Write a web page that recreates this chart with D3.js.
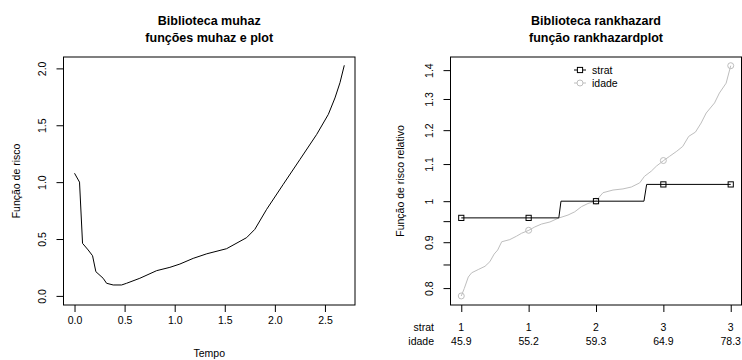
<!DOCTYPE html>
<html>
<head>
<meta charset="utf-8">
<script src="https://cdn.jsdelivr.net/npm/d3@7"></script>
<style>
  body { margin: 0; background: #fff; }
  svg text { font-family: "Liberation Sans", Arial, Helvetica, sans-serif; fill: #000; }
</style>
</head>
<body>
<div id="chart"></div>
<script>
const WIDTH = 742;
const HEIGHT = 360;

// left panel: muhaz hazard estimate
const tempo = [0.0, 0.05, 0.08, 0.136, 0.18, 0.213, 0.286, 0.32, 0.386, 0.47, 0.52, 0.652, 0.82, 0.952, 1.052, 1.185, 1.32, 1.518, 1.718, 1.80, 1.918, 2.084, 2.251, 2.418, 2.534, 2.60, 2.65, 2.693];
const risco = [1.078, 1.0, 0.462, 0.404, 0.353, 0.213, 0.155, 0.111, 0.096, 0.096, 0.111, 0.155, 0.222, 0.251, 0.28, 0.33, 0.37, 0.415, 0.512, 0.585, 0.761, 0.981, 1.20, 1.42, 1.596, 1.74, 1.874, 2.027];
const tempoTicks = [0, 0.5, 1, 1.5, 2, 2.5];
const riscoTicks = [0, 0.5, 1, 1.5, 2];

// right panel: rankhazardplot
const stratRank = [0, 0.362, 0.37, 0.678, 0.688, 1];
const stratHR = [0.958, 0.958, 1.0, 1.0, 1.044, 1.044];
const stratMarks = [0.958, 0.958, 1.0, 1.044, 1.044];

const idadeRank = [0, 0.011, 0.026, 0.0385, 0.063, 0.088, 0.106, 0.122, 0.135, 0.150, 0.180, 0.205, 0.224, 0.251, 0.273, 0.298, 0.329, 0.359, 0.396, 0.421, 0.446, 0.470, 0.499, 0.526, 0.563, 0.6, 0.631, 0.662, 0.680, 0.705, 0.724, 0.751, 0.773, 0.8, 0.822, 0.844, 0.869, 0.890, 0.909, 0.940, 0.958, 0.983, 1.0];
const idadeHR = [0.784, 0.799, 0.823, 0.832, 0.839, 0.846, 0.856, 0.873, 0.882, 0.901, 0.906, 0.914, 0.921, 0.928, 0.936, 0.943, 0.948, 0.957, 0.965, 0.973, 0.986, 0.994, 1.0, 1.022, 1.029, 1.032, 1.037, 1.048, 1.066, 1.080, 1.094, 1.110, 1.122, 1.137, 1.151, 1.181, 1.194, 1.222, 1.254, 1.287, 1.320, 1.354, 1.416];
const idadeMarks = [0.784, 0.928, 1.0, 1.110, 1.416];

const quantis = [0, 0.25, 0.5, 0.75, 1];
const stratLabels = ["1", "1", "2", "3", "3"];
const idadeLabels = ["45.9", "55.2", "59.3", "64.9", "78.3"];
const hrTicks = [0.8, 0.85, 0.9, 0.95, 1, 1.1, 1.2, 1.3, 1.4];
const hrLabels = ["0.8", "", "0.9", "", "1", "1.1", "1.2", "1.3", "1.4"];

const BOX = { TOP: 57, BOTTOM: 305 };
const GRAY = "#bebebe";

let svg = d3.select("#chart").append("svg")
    .attr("width", WIDTH)
    .attr("height", HEIGHT);

// ---------- left panel ----------
let x1 = d3.scaleLinear().domain([-0.11, 2.80]).range([63.5, 355]);
let y1 = d3.scaleLinear().domain([-0.08, 2.1]).range([BOX.BOTTOM, BOX.TOP]);

let left = svg.append("g");

left.append("path")
    .datum(d3.zip(tempo, risco))
    .attr("fill", "none")
    .attr("stroke", "#000")
    .attr("stroke-width", 1)
    .attr("d", d3.line().x(d => x1(d[0])).y(d => y1(d[1])));

left.append("g")
    .attr("transform", "translate(0," + BOX.BOTTOM + ")")
    .call(d3.axisBottom(x1).tickValues(tempoTicks).tickFormat(d3.format(".1f")).tickSize(7).tickSizeOuter(0))
    .call(g => g.select(".domain").remove())
    .call(g => g.selectAll("text").attr("y", 19).attr("dy", 0).attr("font-size", 10.5).attr("font-family", null));

left.append("g")
    .attr("transform", "translate(" + x1.range()[0] + ",0)")
    .call(d3.axisLeft(y1).tickValues(riscoTicks).tickFormat(d3.format(".1f")).tickSize(7).tickSizeOuter(0))
    .call(g => g.select(".domain").remove())
    .call(g => g.selectAll("text")
        .attr("x", 0).attr("dy", 0)
        .attr("text-anchor", "middle")
        .attr("transform", "translate(-18,0) rotate(-90)")
        .attr("font-size", 10.5).attr("font-family", null));

left.append("rect")
    .attr("x", x1.range()[0]).attr("y", BOX.TOP)
    .attr("width", x1.range()[1] - x1.range()[0])
    .attr("height", BOX.BOTTOM - BOX.TOP)
    .attr("fill", "none").attr("stroke", "#000");

let lcx = (x1.range()[0] + x1.range()[1]) / 2;
left.append("text").attr("x", lcx).attr("y", 25).attr("text-anchor", "middle")
    .attr("font-weight", "bold").attr("font-size", 12.5).text("Biblioteca muhaz");
left.append("text").attr("x", lcx).attr("y", 41.5).attr("text-anchor", "middle")
    .attr("font-weight", "bold").attr("font-size", 12.5).text("funções muhaz e plot");
left.append("text").attr("x", lcx).attr("y", 357).attr("text-anchor", "middle")
    .attr("font-size", 10.5).text("Tempo");
left.append("text").attr("transform", "translate(20," + (BOX.TOP + BOX.BOTTOM) / 2 + ") rotate(-90)")
    .attr("text-anchor", "middle").attr("font-size", 10.5).text("Função de risco");

// ---------- right panel ----------
let x2 = d3.scaleLinear().domain([-0.04, 1.04]).range([450.5, 741.5]);
let y2 = d3.scaleLog().domain([0.766, 1.448]).range([BOX.BOTTOM, BOX.TOP]);

let right = svg.append("g");

right.append("path")
    .datum(d3.zip(idadeRank, idadeHR))
    .attr("fill", "none")
    .attr("stroke", GRAY)
    .attr("stroke-width", 1)
    .attr("d", d3.line().x(d => x2(d[0])).y(d => y2(d[1])));

right.selectAll(".idade")
    .data(d3.zip(quantis, idadeMarks))
    .enter().append("circle")
    .attr("class", "idade")
    .attr("cx", d => x2(d[0])).attr("cy", d => y2(d[1]))
    .attr("r", 3)
    .attr("fill", "none").attr("stroke", GRAY);

right.append("path")
    .datum(d3.zip(stratRank, stratHR))
    .attr("fill", "none")
    .attr("stroke", "#000")
    .attr("stroke-width", 1)
    .attr("d", d3.line().x(d => x2(d[0])).y(d => y2(d[1])));

right.selectAll(".strat")
    .data(d3.zip(quantis, stratMarks))
    .enter().append("rect")
    .attr("class", "strat")
    .attr("x", d => x2(d[0]) - 2.6).attr("y", d => y2(d[1]) - 2.6)
    .attr("width", 5.2).attr("height", 5.2)
    .attr("fill", "none").attr("stroke", "#000");

right.append("g")
    .attr("transform", "translate(0," + BOX.BOTTOM + ")")
    .call(d3.axisBottom(x2).tickValues(quantis).tickFormat("").tickSize(7).tickSizeOuter(0))
    .call(g => g.select(".domain").remove());

right.append("g")
    .attr("transform", "translate(" + x2.range()[0] + ",0)")
    .call(d3.axisLeft(y2).tickValues(hrTicks).tickFormat((d, i) => hrLabels[i]).tickSize(7).tickSizeOuter(0))
    .call(g => g.select(".domain").remove())
    .call(g => g.selectAll("text")
        .attr("x", 0).attr("dy", 0)
        .attr("text-anchor", "middle")
        .attr("transform", "translate(-18,0) rotate(-90)")
        .attr("font-size", 10.5).attr("font-family", null));

right.append("rect")
    .attr("x", x2.range()[0]).attr("y", BOX.TOP)
    .attr("width", x2.range()[1] - x2.range()[0])
    .attr("height", BOX.BOTTOM - BOX.TOP)
    .attr("fill", "none").attr("stroke", "#000");

// two rows of category labels below the axis
right.selectAll(".stratlab").data(stratLabels).enter().append("text")
    .attr("x", (d, i) => x2(quantis[i])).attr("y", 331)
    .attr("text-anchor", "middle").attr("font-size", 10.5).text(d => d);
right.selectAll(".idadelab").data(idadeLabels).enter().append("text")
    .attr("x", (d, i) => x2(quantis[i])).attr("y", 344.5)
    .attr("text-anchor", "middle").attr("font-size", 10.5).text(d => d);
right.append("text").attr("x", 434).attr("y", 331).attr("text-anchor", "end")
    .attr("font-size", 10.5).text("strat");
right.append("text").attr("x", 434).attr("y", 344.5).attr("text-anchor", "end")
    .attr("font-size", 10.5).text("idade");

let rcx = (x2.range()[0] + x2.range()[1]) / 2;
right.append("text").attr("x", rcx).attr("y", 25).attr("text-anchor", "middle")
    .attr("font-weight", "bold").attr("font-size", 12.5).text("Biblioteca rankhazard");
right.append("text").attr("x", rcx).attr("y", 41.5).attr("text-anchor", "middle")
    .attr("font-weight", "bold").attr("font-size", 12.5).text("função rankhazardplot");
right.append("text").attr("transform", "translate(404," + (BOX.TOP + BOX.BOTTOM) / 2 + ") rotate(-90)")
    .attr("text-anchor", "middle").attr("font-size", 10.5).text("Função de risco relativo");

// legend
let legend = right.append("g");
[["strat", "#000", "sq"], ["idade", GRAY, "ci"]].forEach((item, i) => {
    let ly = 70 + i * 13;
    legend.append("line").attr("x1", 574).attr("x2", 586).attr("y1", ly).attr("y2", ly)
        .attr("stroke", item[1]).attr("stroke-width", 1);
    if (item[2] == "sq") {
        legend.append("rect").attr("x", 580 - 2.6).attr("y", ly - 2.6).attr("width", 5.2).attr("height", 5.2)
            .attr("fill", "#fff").attr("stroke", item[1]);
    } else {
        legend.append("circle").attr("cx", 580).attr("cy", ly).attr("r", 3)
            .attr("fill", "#fff").attr("stroke", item[1]);
    }
    legend.append("text").attr("x", 592).attr("y", ly + 3.8).attr("font-size", 10.5).text(item[0]);
});
</script>
</body>
</html>
